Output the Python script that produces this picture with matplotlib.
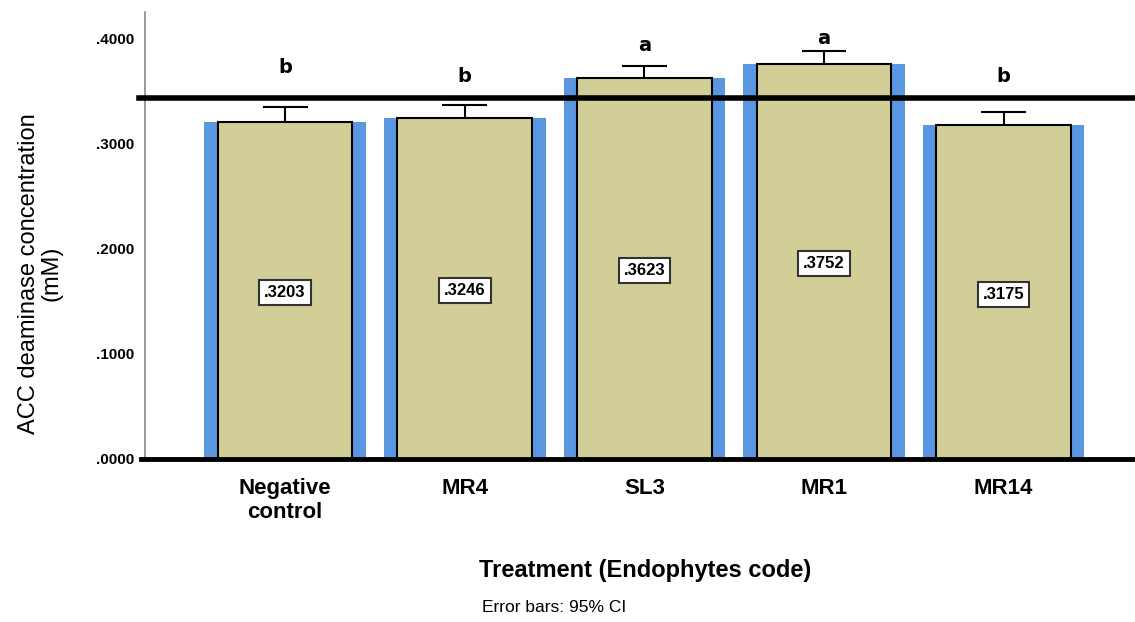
import matplotlib.pyplot as plt
import numpy as np

plt.rcParams['font.family'] = ['Liberation Sans', 'DejaVu Sans']

treatments = ["Negative\ncontrol", "MR4", "SL3", "MR1", "MR14"]
means = [0.3203, 0.3246, 0.3623, 0.3752, 0.3175]
ci_upper = [0.335, 0.337, 0.374, 0.388, 0.330]
letters = ["b", "b", "a", "a", "b"]
ref_line = 0.343

x = np.arange(len(treatments))

fig = plt.figure(figsize=(11.35, 6.22), dpi=100)
ax = fig.add_axes([145 / 1135, 163 / 622, 988 / 1135, 447 / 622])

# barra azul detras (sombra) y barra caqui encima
ax.bar(x, means, width=0.90, color="#5A97E0", zorder=1)
ax.bar(x, means, width=0.75, color="#D2CE98", edgecolor="black", linewidth=1.5, zorder=2)

# barras de error (solo hacia arriba)
ax.vlines(x, means, ci_upper, color="black", linewidth=1.5, zorder=3)
ax.hlines(ci_upper, x - 0.125, x + 0.125, color="black", linewidth=1.5, zorder=3)

# linea de referencia
ax.axhline(ref_line, xmin=-0.006, xmax=1.01, color="black", linewidth=4, zorder=4, clip_on=False)

# letras de significancia
letter_y = [0.372, 0.364, 0.393, 0.400, 0.364]
for xi, lt, ly in zip(x, letters, letter_y):
    ax.text(xi, ly, lt, ha="center", va="center", fontsize=14, fontweight="bold",
            family="DejaVu Sans")

# etiquetas de valor
for xi, m in zip(x, means):
    txt = ("%.4f" % m).lstrip("0")
    ax.text(xi, m / 2 - 0.002, txt, ha="center", va="center", fontsize=12, fontweight="bold",
            family=["Liberation Sans Narrow", "Liberation Sans"],
            bbox=dict(facecolor="white", edgecolor="#333333", boxstyle="square,pad=0.3", linewidth=1.5),
            zorder=5)

ax.set_xlim(-0.78, 4.72)
ax.set_ylim(0, 0.425)
ax.set_yticks([0, 0.1, 0.2, 0.3, 0.4])
ax.set_yticklabels([".0000", ".1000", ".2000", ".3000", ".4000"], fontweight="bold", fontsize=11)
ax.set_xticks(x)
ax.set_xticklabels(treatments, fontweight="bold", fontsize=16, linespacing=1.15)
ax.tick_params(axis="y", length=0, pad=8)
ax.tick_params(axis="x", length=0, pad=14)

for s in ["top", "right"]:
    ax.spines[s].set_visible(False)
ax.spines["left"].set_color("#888888")
ax.spines["left"].set_linewidth(1.2)
ax.spines["bottom"].set_linewidth(3.5)
ax.spines["bottom"].set_bounds(-0.8, 4.72)

ax.set_ylabel("ACC deaminase concentration\n(mM)", fontsize=17, linespacing=1.0)
ax.yaxis.set_label_coords(-0.084, 0.415)

fig.text(0.568, 0.083, "Treatment (Endophytes code)", ha="center", va="center",
         fontsize=17, fontweight="bold")
fig.text(0.488, 0.024, "Error bars: 95% CI", ha="center", va="center", fontsize=12.5)

plt.savefig("out.png", dpi=100)
